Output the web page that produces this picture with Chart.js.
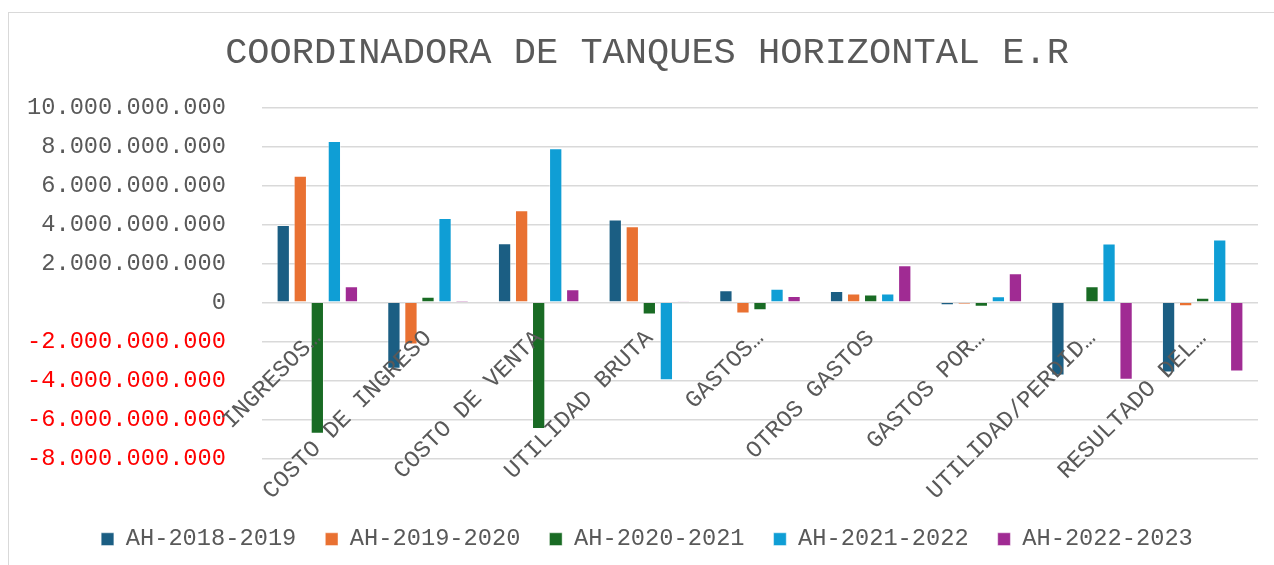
<!DOCTYPE html>
<html>
<head>
<meta charset="utf-8">
<script src="https://cdn.jsdelivr.net/npm/chart.js@4"></script>
<style>
    body { margin: 0; background: #ffffff; overflow: hidden; }
    #frame { position: absolute; left: 8px; top: 12px; width: 1400px; height: 700px;
             border-left: 1.5px solid #d9d9d9; border-top: 1.5px solid #d9d9d9; }
    #chart { position: absolute; left: 0; top: 0; }
</style>
</head>
<body>
<div id="frame"></div>
<canvas id="chart" width="1274" height="565"></canvas>
<script>
// categories and series
const categories = ['INGRESOS…', 'COSTO DE INGRESO', 'COSTO DE VENTA', 'UTILIDAD BRUTA',
    'GASTOS…', 'OTROS GASTOS', 'GASTOS POR…', 'UTILIDAD/PERDID…', 'RESULTADO DEL…'];

const seriesNames = ['AH-2018-2019', 'AH-2019-2020', 'AH-2020-2021', 'AH-2021-2022', 'AH-2022-2023'];
const seriesColors = ['#1b5e83', '#e97132', '#196b24', '#0f9ed5', '#a02b93'];

const ah2018 = [3970000000, -3410000000, 3030000000, 4250000000, 620000000, 580000000, -150000000, -3750000000, -3600000000];
const ah2019 = [6500000000, -2160000000, 4730000000, 3900000000, -570000000, 460000000, -80000000, 0, -200000000];
const ah2020 = [-6740000000, 290000000, -6500000000, -620000000, -410000000, 400000000, -230000000, 820000000, 240000000];
const ah2021 = [8280000000, 4330000000, 7900000000, -4000000000, 700000000, 450000000, 310000000, 3020000000, 3220000000];
const ah2022 = [820000000, 100000000, 670000000, 30000000, 330000000, 1900000000, 1490000000, -3970000000, -3550000000];

const yMin = -8000000000;
const yMax = 10000000000;
const yStep = 2000000000;

const seriesValues = [ah2018, ah2019, ah2020, ah2021, ah2022];

const fontName = '"Liberation Mono", "DejaVu Sans Mono", monospace';

function formatNumber(v) {
    var s = String(Math.abs(v)).replace(/\B(?=(\d{3})+(?!\d))/g, '.');
    return (v < 0 ? '-' : '') + s;
}

const datasets = seriesNames.map(function (name, i) {
    return {
        label: name,
        data: seriesValues[i],
        backgroundColor: seriesColors[i],
        borderColor: 'rgba(255,255,255,0.45)',
        borderWidth: 1,
        categoryPercentage: 0.77,
        barPercentage: 0.78
    };
});

const config = {
    type: 'bar',
    data: { labels: categories, datasets: datasets },
    options: {
        responsive: false,
        animation: false,
        devicePixelRatio: 1,
        layout: { padding: { left: 20, right: 0, top: 0, bottom: 4 } },
        plugins: {
            title: {
                display: true,
                text: 'COORDINADORA DE TANQUES HORIZONTAL E.R',
                color: '#595959',
                font: { family: fontName, size: 37, weight: 'normal' },
                padding: { top: 31, bottom: 32 }
            },
            legend: {
                position: 'bottom',
                labels: {
                    color: '#595959',
                    font: { family: fontName, size: 23.7 },
                    boxWidth: 12.7,
                    boxHeight: 12.7,
                    padding: 29
                }
            },
            tooltip: { enabled: false }
        },
        scales: {
            x: {
                position: { y: 0 },
                grid: { display: false },
                border: { display: false },
                ticks: {
                    z: 1, // labels sit on top of the bars
                    color: '#595959',
                    font: { family: fontName, size: 23.7 },
                    minRotation: 45,
                    maxRotation: 45,
                    autoSkip: false,
                    padding: 14
                }
            },
            // empty axis that only keeps room between the plot and the legend
            x2: {
                type: 'category',
                position: 'bottom',
                grid: { display: false },
                border: { display: false },
                ticks: { display: false },
                afterFit: function (scale) { scale.height = 40; }
            },
            y: {
                min: yMin,
                max: yMax,
                grid: { color: '#d9d9d9', lineWidth: 1.5, drawTicks: false },
                border: { display: false },
                ticks: {
                    stepSize: yStep,
                    padding: 36,
                    font: { family: fontName, size: 23.7 },
                    color: function (ctx) { return ctx.tick.value < 0 ? '#ff0000' : '#595959'; },
                    callback: function (value) { return formatNumber(value); }
                },
                afterFit: function (scale) { scale.width = 242; }
            },
            // empty right axis, keeps the plot edge where the reference has it
            y2: {
                type: 'linear',
                position: 'right',
                grid: { display: false },
                border: { display: false },
                ticks: { display: false },
                afterFit: function (scale) { scale.width = 16; }
            }
        }
    }
};

const myChart = new Chart(document.getElementById('chart'), config);
</script>
</body>
</html>
